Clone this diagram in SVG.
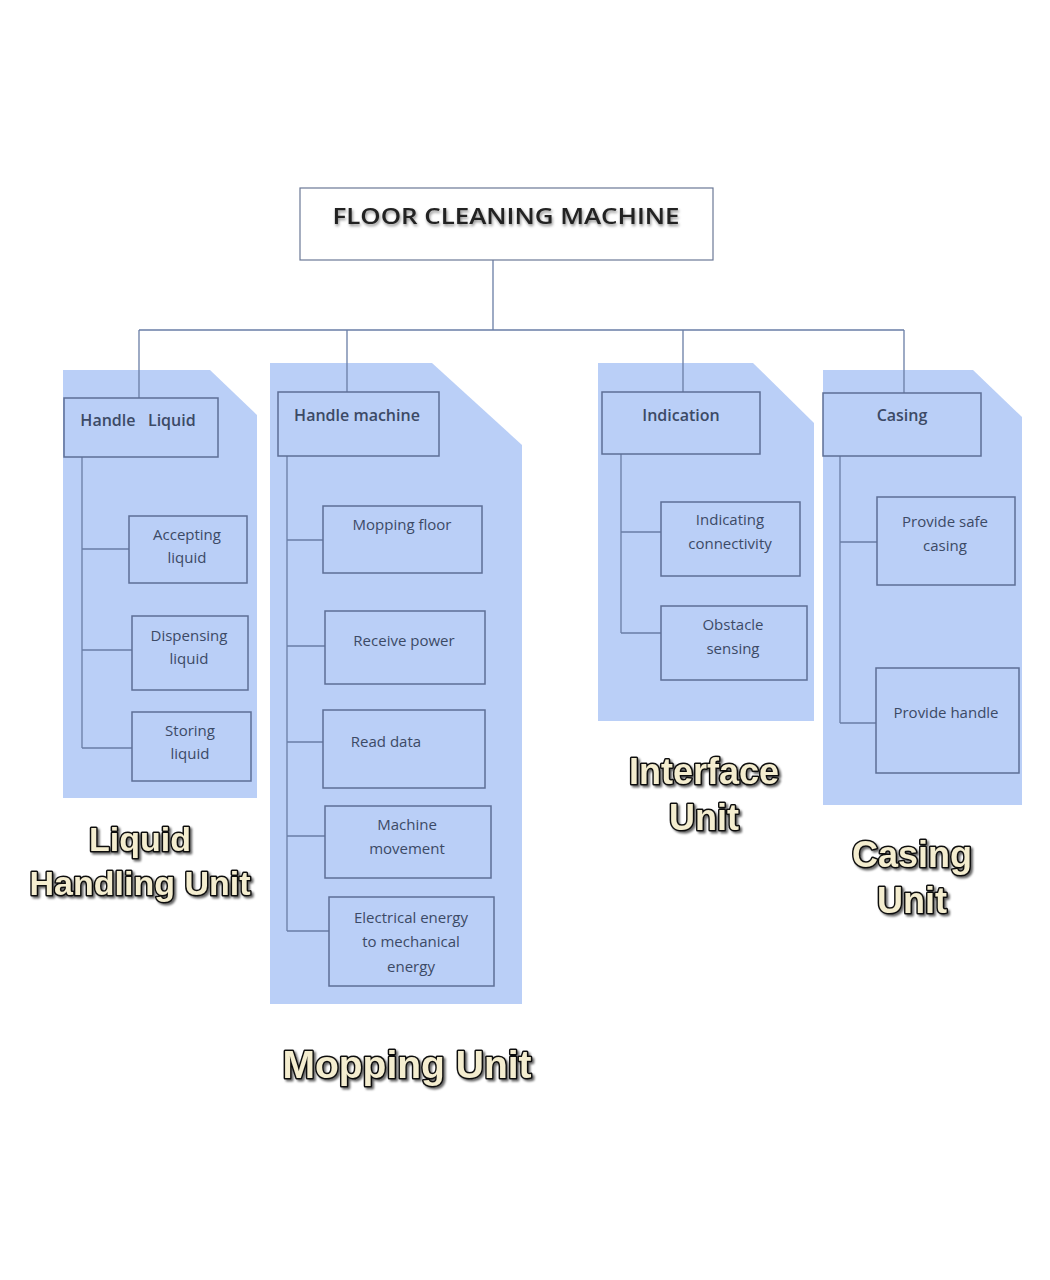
<svg xmlns="http://www.w3.org/2000/svg" width="1050" height="1280" viewBox="0 0 1050 1280">
<defs>
<style>
.panel{fill:#bacff7;stroke:none}
.box{fill:none;stroke:#5d6f96;stroke-width:1.5}
.top{fill:#ffffff;stroke:#6b7896;stroke-width:1.2}
.ln{fill:none;stroke:#6a7ea6;stroke-width:1.3}
.t{font-family:"Open Sans","Liberation Sans",sans-serif;font-size:15px;fill:#3c4a66;text-anchor:middle}
.h{font-family:"Open Sans","Liberation Sans",sans-serif;font-size:16px;font-weight:600;fill:#3c4a66;text-anchor:middle}
.title{font-family:"Open Sans","Liberation Sans",sans-serif;font-size:22px;font-weight:600;fill:#222;text-anchor:middle;filter:url(#sh)}
.unit{font-family:"Liberation Sans",Arial,sans-serif;font-weight:bold;font-size:36px;fill:#f4edcf;stroke:#111;stroke-width:3;paint-order:stroke;stroke-linejoin:round;text-anchor:middle;filter:url(#sh2)}
</style>
<filter id="sh" x="-10%" y="-30%" width="120%" height="160%">
<feDropShadow dx="1" dy="2" stdDeviation="1.5" flood-color="#000" flood-opacity="0.45"/>
</filter>
<filter id="sh2" x="-10%" y="-30%" width="120%" height="160%">
<feDropShadow dx="2" dy="2" stdDeviation="1" flood-color="#000" flood-opacity="0.6"/>
</filter>
</defs>
<rect width="1050" height="1280" fill="#ffffff"/>

<g id="panels">
<polygon class="panel" points="63,370 210,370 257,415 257,798 63,798"/>
<polygon class="panel" points="270,363 432,363 522,445 522,1004 270,1004"/>
<polygon class="panel" points="598,363 753,363 814,423 814,721 598,721"/>
<polygon class="panel" points="823,370 973,370 1022,417 1022,805 823,805"/>
</g>

<g id="connectors">
<path class="ln" d="M493,260 V330 M139,330 H904 M139,330 V398 M347,330 V392 M683,330 V392 M904,330 V393"/>
<path class="ln" d="M82,457 V748 M82,549 H129 M82,650 H132 M82,748 H132"/>
<path class="ln" d="M287,456 V931 M287,540 H323 M287,646 H325 M287,742 H323 M287,836 H325 M287,931 H329"/>
<path class="ln" d="M621,454 V633 M621,532 H661 M621,633 H661"/>
<path class="ln" d="M840,456 V723 M840,542 H877 M840,723 H876"/>
</g>

<g id="root">
<rect class="top" x="300" y="188" width="413" height="72"/>
<text class="title" x="506" y="224" textLength="347" lengthAdjust="spacingAndGlyphs">FLOOR CLEANING MACHINE</text>
</g>

<g id="handle-liquid">
<rect class="box" x="64" y="398" width="154" height="59"/>
<text class="h" x="138" y="426" xml:space="preserve">Handle   Liquid</text>
</g>
<g id="accepting-liquid">
<rect class="box" x="129" y="516" width="118" height="67"/>
<text class="t" x="187" y="540">Accepting</text><text class="t" x="187" y="563">liquid</text>
</g>
<g id="dispensing-liquid">
<rect class="box" x="132" y="616" width="116" height="74"/>
<text class="t" x="189" y="641">Dispensing</text><text class="t" x="189" y="664">liquid</text>
</g>
<g id="storing-liquid">
<rect class="box" x="132" y="712" width="119" height="69"/>
<text class="t" x="190" y="736">Storing</text><text class="t" x="190" y="759">liquid</text>
</g>

<g id="handle-machine">
<rect class="box" x="278" y="392" width="161" height="64"/>
<text class="h" x="357" y="421">Handle machine</text>
</g>
<g id="mopping-floor">
<rect class="box" x="323" y="506" width="159" height="67"/>
<text class="t" x="402" y="530">Mopping floor</text>
</g>
<g id="receive-power">
<rect class="box" x="325" y="611" width="160" height="73"/>
<text class="t" x="404" y="646">Receive power</text>
</g>
<g id="read-data">
<rect class="box" x="323" y="710" width="162" height="78"/>
<text class="t" x="386" y="747">Read data</text>
</g>
<g id="machine-movement">
<rect class="box" x="325" y="806" width="166" height="72"/>
<text class="t" x="407" y="830">Machine</text><text class="t" x="407" y="854">movement</text>
</g>
<g id="electrical-energy">
<rect class="box" x="329" y="897" width="165" height="89"/>
<text class="t" x="411" y="923">Electrical energy</text><text class="t" x="411" y="947">to mechanical</text><text class="t" x="411" y="972">energy</text>
</g>

<g id="indication">
<rect class="box" x="602" y="392" width="158" height="62"/>
<text class="h" x="681" y="421">Indication</text>
</g>
<g id="indicating-connectivity">
<rect class="box" x="661" y="502" width="139" height="74"/>
<text class="t" x="730" y="525">Indicating</text><text class="t" x="730" y="549">connectivity</text>
</g>
<g id="obstacle-sensing">
<rect class="box" x="661" y="606" width="146" height="74"/>
<text class="t" x="733" y="630">Obstacle</text><text class="t" x="733" y="654">sensing</text>
</g>

<g id="casing">
<rect class="box" x="823" y="393" width="158" height="63"/>
<text class="h" x="902" y="421">Casing</text>
</g>
<g id="provide-safe-casing">
<rect class="box" x="877" y="497" width="138" height="88"/>
<text class="t" x="945" y="527">Provide safe</text><text class="t" x="945" y="551">casing</text>
</g>
<g id="provide-handle">
<rect class="box" x="876" y="668" width="143" height="105"/>
<text class="t" x="946" y="718">Provide handle</text>
</g>

<g id="unit-labels">
<text class="unit" x="140" y="851" style="font-size:34px">Liquid</text>
<text class="unit" x="140" y="895" style="font-size:34px">Handling Unit</text>
<text class="unit" x="407" y="1078" style="font-size:39px">Mopping Unit</text>
<text class="unit" x="704" y="784">Interface</text>
<text class="unit" x="704" y="830">Unit</text>
<text class="unit" x="912" y="867">Casing</text>
<text class="unit" x="912" y="913">Unit</text>
</g>
</svg>
